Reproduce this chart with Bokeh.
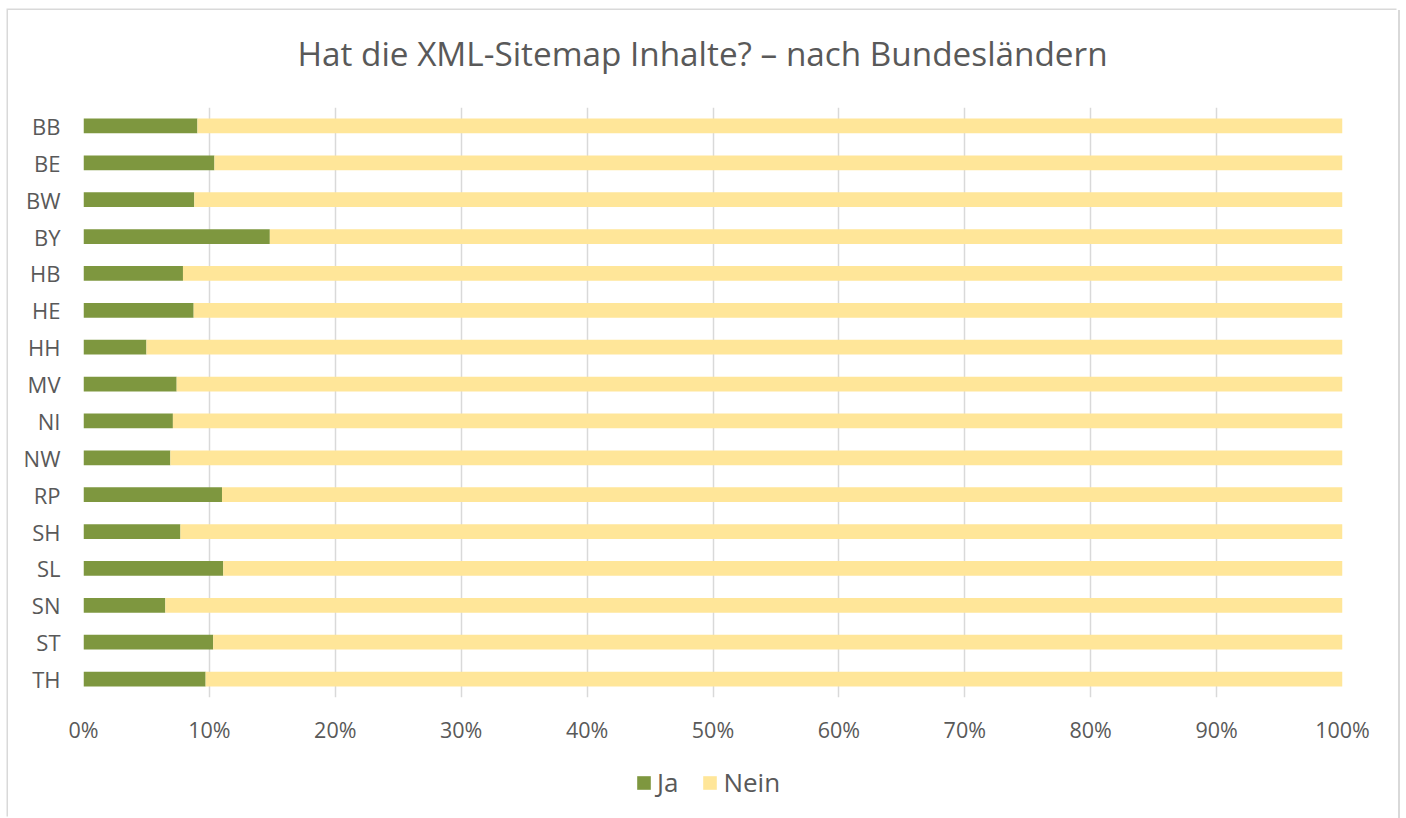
from bokeh.plotting import figure
from bokeh.layouts import column
from bokeh.models import Legend, LegendItem, NumeralTickFormatter, FixedTicker, Range1d, ColumnDataSource, Label
from bokeh.embed import file_html
from bokeh.resources import INLINE

states = ["BB", "BE", "BW", "BY", "HB", "HE", "HH", "MV", "NI", "NW", "RP", "SH", "SL", "SN", "ST", "TH"]
ja = [9.05, 10.4, 8.8, 14.8, 7.9, 8.75, 5.0, 7.4, 7.1, 6.9, 11.0, 7.7, 11.1, 6.5, 10.3, 9.7]
nein = [100 - v for v in ja]
ticks = [0, 0.1, 0.2, 0.3, 0.4, 0.5, 0.6, 0.7, 0.8, 0.9, 1.0]
series = ["Ja", "Nein"]
title_text = "Hat die XML-Sitemap Inhalte? – nach Bundesländern"

FONT = "Open Sans"
TXT = "#595959"
GREEN = "#7E973F"
YELLOW = "#FFE699"
COLORS = [GREEN, YELLOW]
W = 1390
ML, MR = 75, 56

src = ColumnDataSource(dict(state=states, Ja=[v / 100 for v in ja], Nein=[v / 100 for v in nein]))

# title strip (frames are aligned in the column, so x data units = pixels from the figure's left edge)
p0 = figure(width=W, height=97, x_range=Range1d(ML, W - MR), y_range=Range1d(0, 97),
            x_axis_type=None, y_axis_type=None, output_backend="svg", toolbar_location=None,
            min_border_left=ML, min_border_right=MR, min_border_top=0, min_border_bottom=0)
p0.grid.grid_line_color = None
p0.outline_line_color = None
p0.add_layout(Label(x=694, y=55, text=title_text, text_align="center", text_baseline="alphabetic",
                    text_font=FONT, text_font_size="33.3px", text_color=TXT))

# main chart
p = figure(width=W, height=653, y_range=list(reversed(states)), x_range=Range1d(0, 1),
           output_backend="svg", toolbar_location=None,
           min_border_left=ML, min_border_right=MR, min_border_top=0, min_border_bottom=63)

r = p.hbar_stack(series, y="state", height=0.4, color=COLORS, source=src, line_width=0)

p.xaxis.ticker = FixedTicker(ticks=ticks)
p.xaxis.formatter = NumeralTickFormatter(format="0%")
for ax in (p.xaxis[0], p.yaxis[0]):
    ax.axis_line_color = None
    ax.major_tick_line_color = None
    ax.minor_tick_line_color = None
    ax.major_label_text_font = FONT
    ax.major_label_text_color = TXT
p.xaxis.major_label_text_font_size = "21.5px"
p.yaxis.major_label_text_font_size = "22px"
p.xaxis.major_label_standoff = 11
p.yaxis.major_label_standoff = 17

p.xgrid.ticker = FixedTicker(ticks=ticks)
p.xgrid.grid_line_color = "#d9d9d9"
p.xgrid.grid_line_width = 1.5
p.ygrid.grid_line_color = None
p.outline_line_color = None
p.y_range.range_padding = 0

# legend strip: zero-height copies of the stacked bars only feed the legend
p2 = figure(width=W, height=58, x_range=Range1d(5, 6), y_range=list(reversed(states)),
            x_axis_type=None, output_backend="svg", toolbar_location=None,
            min_border_left=ML, min_border_right=MR, min_border_top=0, min_border_bottom=0)
p2.yaxis.visible = False
p2.grid.grid_line_color = None
p2.outline_line_color = None
r2 = p2.hbar_stack(series, y="state", height=0, color=COLORS, source=src, line_width=0)
legend = Legend(items=[LegendItem(label=n, renderers=[rr]) for n, rr in zip(series, r2)],
                orientation="horizontal", location=(552, 18),
                label_text_font=FONT, label_text_font_size="26px", label_text_color=TXT,
                glyph_width=17, glyph_height=17, label_height=17, label_standoff=5, spacing=23,
                padding=0, margin=0, border_line_color=None, background_fill_alpha=0)
p2.add_layout(legend, "center")

layout = column(p0, p, p2, spacing=0)
layout.styles = {"margin": "10px 0 0 8px", "box-shadow": "-1.5px -1.5px 0 0 #d9d9d9, 2px 0 0 0 #d9d9d9"}

open("out.html", "w").write(file_html(layout, INLINE))
